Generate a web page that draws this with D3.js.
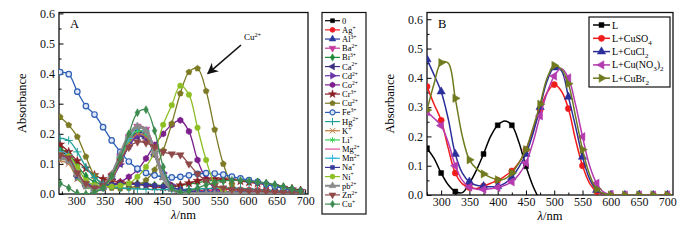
<html>

<head>
    <meta charset="utf-8">
    <title>Absorbance spectra</title>
    <style>
        body {
            margin: 0;
            background: #fff;
        }

        text {
            font-family: "Liberation Serif", "Times New Roman", Times, serif;
        }
    </style>
</head>

<body>
    <script src="https://cdn.jsdelivr.net/npm/d3@7/dist/d3.min.js"></script>
    <script>
        // ---------- panel A data: wavelength (nm) and absorbance per ion ----------
        var wlA = [272, 287, 302, 317, 332, 347, 362, 377, 392, 407, 422, 437, 452, 467, 482, 497, 512, 527, 542, 557, 572, 587, 602, 617, 632, 647, 662, 677, 692];

        var labelsA = ["0", "Ag^+", "Al^3+", "Ba^2+", "Bi^3+", "Ca^2+", "Cd^2+", "Co^2+", "Cr^3+", "Cu^2+", "Fe^3+",
            "Hg^2+", "K^+", "Li^+", "Mg^2+", "Mn^2+", "Na^+", "Ni^+", "pb^2+", "Zn^2+", "Cu^+"];

        var a0 = [0.14, 0.125, 0.065, 0.035, 0.02, 0.025, 0.06, 0.12, 0.18, 0.21, 0.2, 0.135, 0.06, 0.02, 0.008, 0.005, 0.005, 0.005, 0.005, 0.005, 0.005, 0.005, 0.005, 0.005, 0.005, 0.005, 0.005, 0.005, 0.005];
        var aAg = [0.15, 0.13, 0.07, 0.035, 0.02, 0.025, 0.065, 0.13, 0.19, 0.22, 0.21, 0.145, 0.065, 0.025, 0.01, 0.008, 0.01, 0.012, 0.014, 0.015, 0.015, 0.015, 0.014, 0.013, 0.012, 0.01, 0.008, 0.006, 0.005];
        var aAl = [0.13, 0.12, 0.065, 0.03, 0.018, 0.022, 0.055, 0.115, 0.175, 0.205, 0.195, 0.13, 0.055, 0.018, 0.005, 0.003, 0.003, 0.003, 0.003, 0.003, 0.003, 0.003, 0.003, 0.003, 0.003, 0.003, 0.003, 0.003, 0.003];
        var aBa = [0.12, 0.115, 0.06, 0.03, 0.02, 0.025, 0.06, 0.125, 0.19, 0.225, 0.215, 0.15, 0.065, 0.02, 0.008, 0.005, 0.004, 0.004, 0.004, 0.004, 0.004, 0.004, 0.004, 0.004, 0.004, 0.004, 0.004, 0.004, 0.004];
        var aBi = [0.15, 0.135, 0.095, 0.06, 0.04, 0.032, 0.03, 0.032, 0.035, 0.036, 0.034, 0.03, 0.027, 0.026, 0.028, 0.033, 0.038, 0.042, 0.045, 0.046, 0.046, 0.045, 0.043, 0.04, 0.036, 0.031, 0.025, 0.019, 0.013];
        var aCa = [0.13, 0.12, 0.06, 0.03, 0.02, 0.022, 0.05, 0.1, 0.16, 0.19, 0.185, 0.13, 0.06, 0.02, 0.008, 0.005, 0.005, 0.005, 0.005, 0.005, 0.005, 0.005, 0.005, 0.005, 0.005, 0.005, 0.005, 0.005, 0.005];
        var aCd = [0.12, 0.11, 0.055, 0.028, 0.018, 0.022, 0.05, 0.1, 0.16, 0.195, 0.19, 0.14, 0.07, 0.03, 0.01, 0.005, 0.005, 0.005, 0.005, 0.005, 0.005, 0.005, 0.005, 0.005, 0.005, 0.005, 0.005, 0.005, 0.005];
        var aCo = [0.13, 0.12, 0.06, 0.035, 0.025, 0.025, 0.03, 0.04, 0.057, 0.08, 0.118, 0.163, 0.2, 0.23, 0.245, 0.208, 0.113, 0.05, 0.02, 0.008, 0.004, 0.002, 0, 0, 0, 0, 0, 0, 0];
        var aCr = [0.165, 0.14, 0.11, 0.085, 0.063, 0.05, 0.043, 0.038, 0.035, 0.032, 0.028, 0.024, 0.022, 0.024, 0.029, 0.036, 0.044, 0.049, 0.05, 0.049, 0.046, 0.043, 0.039, 0.035, 0.031, 0.026, 0.021, 0.016, 0.011];
        var aCu2 = [0.256, 0.229, 0.19, 0.124, 0.06, 0.03, 0.02, 0.018, 0.02, 0.028, 0.046, 0.08, 0.145, 0.234, 0.334, 0.405, 0.417, 0.342, 0.214, 0.1, 0.032, 0.01, 0.003, 0, 0, 0, 0, 0, 0];
        var aFe = [0.405, 0.398, 0.34, 0.292, 0.264, 0.222, 0.178, 0.14, 0.108, 0.084, 0.07, 0.062, 0.057, 0.055, 0.057, 0.062, 0.067, 0.069, 0.068, 0.064, 0.058, 0.052, 0.046, 0.04, 0.032, 0.025, 0.018, 0.012, 0.006];
        var aHg = [0.185, 0.178, 0.14, 0.09, 0.055, 0.035, 0.025, 0.02, 0.018, 0.017, 0.016, 0.015, 0.015, 0.015, 0.015, 0.016, 0.017, 0.018, 0.019, 0.02, 0.02, 0.019, 0.017, 0.015, 0.013, 0.011, 0.009, 0.007, 0.005];
        var aK = [0.11, 0.1, 0.05, 0.025, 0.015, 0.02, 0.05, 0.11, 0.17, 0.2, 0.19, 0.13, 0.055, 0.018, 0.006, 0.004, 0.004, 0.004, 0.004, 0.004, 0.004, 0.004, 0.004, 0.004, 0.004, 0.004, 0.004, 0.004, 0.004];
        var aLi = [0.12, 0.11, 0.055, 0.025, 0.015, 0.02, 0.055, 0.115, 0.18, 0.21, 0.2, 0.14, 0.06, 0.02, 0.007, 0.004, 0.004, 0.004, 0.004, 0.004, 0.004, 0.004, 0.004, 0.004, 0.004, 0.004, 0.004, 0.004, 0.004];
        var aMg = [0.13, 0.12, 0.06, 0.03, 0.02, 0.025, 0.062, 0.125, 0.19, 0.225, 0.215, 0.15, 0.066, 0.022, 0.008, 0.005, 0.005, 0.005, 0.005, 0.005, 0.005, 0.005, 0.005, 0.005, 0.005, 0.005, 0.005, 0.005, 0.005];
        var aMn = [0.14, 0.13, 0.07, 0.035, 0.02, 0.025, 0.06, 0.12, 0.185, 0.22, 0.21, 0.145, 0.062, 0.02, 0.008, 0.005, 0.005, 0.005, 0.005, 0.005, 0.005, 0.005, 0.005, 0.005, 0.005, 0.005, 0.005, 0.005, 0.005];
        var aNa = [0.13, 0.12, 0.06, 0.035, 0.028, 0.03, 0.032, 0.033, 0.033, 0.032, 0.03, 0.028, 0.025, 0.02, 0.015, 0.01, 0.008, 0.006, 0.005, 0.005, 0.005, 0.005, 0.005, 0.005, 0.005, 0.005, 0.005, 0.005, 0.005];
        var aNi = [0.13, 0.125, 0.09, 0.045, 0.03, 0.025, 0.025, 0.028, 0.035, 0.057, 0.09, 0.14, 0.23, 0.295, 0.36, 0.33, 0.22, 0.113, 0.035, 0.01, 0.003, 0, 0, 0, 0, 0, 0, 0, 0];
        var aPb = [0.12, 0.11, 0.065, 0.03, 0.02, 0.025, 0.065, 0.13, 0.195, 0.225, 0.21, 0.14, 0.055, 0.015, 0.005, 0.002, 0.002, 0.002, 0.002, 0.002, 0.002, 0.002, 0.002, 0.002, 0.002, 0.002, 0.002, 0.002, 0.002];
        var aZn = [0.13, 0.12, 0.07, 0.035, 0.02, 0.028, 0.06, 0.11, 0.155, 0.173, 0.17, 0.157, 0.14, 0.133, 0.13, 0.1, 0.067, 0.043, 0.028, 0.02, 0.015, 0.012, 0.01, 0.009, 0.008, 0.006, 0.005, 0.004, 0.003];
        var aCu1 = [0.035, 0.02, 0.002, 0, 0.005, 0.02, 0.06, 0.12, 0.2, 0.27, 0.28, 0.21, 0.09, 0.02, 0.005, 0.01, 0.02, 0.03, 0.038, 0.043, 0.045, 0.045, 0.043, 0.04, 0.035, 0.03, 0.023, 0.016, 0.009];

        var seriesA = [a0, aAg, aAl, aBa, aBi, aCa, aCd, aCo, aCr, aCu2, aFe, aHg, aK, aLi, aMg, aMn, aNa, aNi, aPb, aZn, aCu1];

        // ---------- panel B data ----------
        var wlB = [275, 287.5, 300, 312.5, 325, 337.5, 350, 362.5, 375, 387.5, 400, 412.5, 425, 437.5, 450, 462.5, 475, 487.5,
            500, 512.5, 525, 537.5, 550, 562.5, 575, 587.5, 600, 612.5, 625, 637.5, 650, 662.5, 675, 687.5, 700];

        var labelsB = ["L", "L+CuSO_4", "L+CuCl_2", "L+Cu(NO_3)_2", "L+CuBr_2"];

        var bL = [0.16, 0.125, 0.075, 0.035, 0.012, 0.008, 0.04, 0.085, 0.14, 0.2, 0.238, 0.253, 0.238, 0.18, 0.098, 0.03, -0.02,
            null, null, null, null, null, null, null, null, null, null, null, null, null, null, null, null, null, null];
        var bCuSO4 = [0.37, 0.31, 0.255, 0.16, 0.075, 0.038, 0.026, 0.022, 0.03, 0.04, 0.05, 0.064, 0.082, 0.11, 0.155, 0.22, 0.29, 0.35,
            0.377, 0.355, 0.295, 0.19, 0.1, 0.04, 0.012, 0.003, 0, 0, 0, 0, 0, 0, 0, 0, 0];
        var bCuCl2 = [0.463, 0.41, 0.353, 0.26, 0.14, 0.075, 0.045, 0.033, 0.03, 0.028, 0.03, 0.04, 0.06, 0.095, 0.14, 0.21, 0.3, 0.39,
            0.435, 0.425, 0.335, 0.235, 0.13, 0.055, 0.017, 0.004, 0, 0, 0, 0, 0, 0, 0, 0, 0];
        var bCuNO3 = [0.284, 0.262, 0.237, 0.18, 0.1, 0.05, 0.027, 0.02, 0.019, 0.021, 0.026, 0.033, 0.045, 0.07, 0.11, 0.18, 0.27, 0.35,
            0.406, 0.432, 0.4, 0.31, 0.199, 0.1, 0.04, 0.01, 0.002, 0, 0, 0, 0, 0, 0, 0, 0];
        var bCuBr2 = [0.29, 0.38, 0.452, 0.45, 0.33, 0.2, 0.12, 0.09, 0.072, 0.06, 0.052, 0.055, 0.075, 0.11, 0.155, 0.23, 0.31, 0.4,
            0.442, 0.43, 0.38, 0.27, 0.155, 0.07, 0.02, 0.005, 0, 0, 0, 0, 0, 0, 0, 0, 0];

        var seriesB = [bL, bCuSO4, bCuCl2, bCuNO3, bCuBr2];

        // ---------- styles ----------
        var colorsA = ["#000000", "#ee1c25", "#2a3a9c", "#c2399b", "#1f8a3a", "#3b2f80", "#6b35a8", "#7b1f8c", "#8b1e22", "#7c7a24", "#2f5fb5",
            "#1f9e9a", "#c07a3a", "#3ccf5a", "#e0509f", "#35b7d8", "#3b3a9a", "#8dbf25", "#8a8a8a", "#8e4848", "#3d8a4e"];
        var shapesA = ["square", "circle", "up", "down", "diamond", "left", "right", "hexagon", "star", "pentagon", "ring",
            "plus", "times", "asterisk", "none", "plus", "square", "circle", "up", "down", "diamond"];
        var colorsB = ["#000000", "#f01c1c", "#2b2f9a", "#b43ab0", "#707a1f"];
        var shapesB = ["square", "circle", "up", "left", "right"];

        var svg = d3.select("body")
            .append("svg")
            .attr("width", 700)
            .attr("height", 240);
        svg.append("rect").attr("width", 700).attr("height", 240).attr("fill", "#fff");

        // polygon symbol (hexagon, pentagon)
        function polygon(n) {
            return {
                draw: function (ctx, size) {
                    var r = Math.sqrt(size / 2.4);
                    for (var i = 0; i < n; i++) {
                        var a = -Math.PI / 2 + i * 2 * Math.PI / n;
                        if (i == 0) ctx.moveTo(r * Math.cos(a), r * Math.sin(a));
                        else ctx.lineTo(r * Math.cos(a), r * Math.sin(a));
                    }
                    ctx.closePath();
                }
            };
        }

        function addMarker(g, shape, color, cx, cy, size) {
            if (shape == "none") return;
            var type = {
                square: d3.symbolSquare, circle: d3.symbolCircle, ring: d3.symbolCircle, up: d3.symbolTriangle,
                down: d3.symbolTriangle, left: d3.symbolTriangle, right: d3.symbolTriangle, diamond: d3.symbolDiamond,
                star: d3.symbolStar, hexagon: polygon(6), pentagon: polygon(5), plus: d3.symbolPlus,
                times: d3.symbolTimes, asterisk: d3.symbolAsterisk
            }[shape];
            var rot = { down: 180, left: -90, right: 90 }[shape] || 0;
            var open = (shape == "plus" || shape == "times" || shape == "asterisk");
            var s = (shape == "square" || shape == "diamond") ? size * 0.8 : size;
            g.append("path")
                .attr("d", d3.symbol().type(type).size(s)())
                .attr("transform", "translate(" + cx + "," + cy + ") rotate(" + rot + ")")
                .attr("fill", open ? "none" : (shape == "ring" ? "#dde5f6" : color))
                .attr("stroke", color)
                .attr("stroke-width", open ? 1 : (shape == "ring" ? 1.2 : 0.5));
        }

        // label with ^superscript or _subscript
        function richText(t, str, fs) {
            var parts = str.split("^");
            t.append("tspan").text(parts[0].split(/_(\d)/)[0]);
            if (parts.length > 1) {
                t.append("tspan").attr("dy", -fs * 0.4).attr("font-size", fs * 0.7).text(parts[1]);
                return;
            }
            var bits = str.split(/(_\d)/);
            var low = false;
            bits.slice(1).forEach(function (b) {
                if (b.charAt(0) == "_") {
                    t.append("tspan").attr("dy", fs * 0.3).attr("font-size", fs * 0.7).text(b.slice(1));
                    low = true;
                } else if (b.length) {
                    t.append("tspan").attr("dy", low ? -fs * 0.3 : 0).text(b);
                    low = false;
                }
            });
        }

        // frame, ticks and axis titles
        function drawAxes(x, y, id, letter) {
            var x0 = x.range()[0], x1 = x.range()[1], y0 = y.range()[0], y1 = y.range()[1];
            var g = svg.append("g");
            var xMajor = d3.range(300, 701, 50), xMinor = d3.range(275, 701, 50);
            var yMajor = d3.range(0, 0.61, 0.1), yMinor = d3.range(0.05, y.domain()[1], 0.1);

            g.append("g").attr("transform", "translate(0," + y0 + ")")
                .call(d3.axisBottom(x).tickValues(xMinor).tickSize(-2.5).tickFormat(""));
            g.append("g").attr("transform", "translate(0," + y0 + ")")
                .call(d3.axisBottom(x).tickValues(xMajor).tickSize(-4.5).tickPadding(2));
            g.append("g").attr("transform", "translate(" + x0 + ",0)")
                .call(d3.axisLeft(y).tickValues(yMinor).tickSize(-2.5).tickFormat(""));
            g.append("g").attr("transform", "translate(" + x0 + ",0)")
                .call(d3.axisLeft(y).tickValues(yMajor).tickSize(-4.5).tickPadding(4).tickFormat(d3.format(".1f")));
            g.selectAll(".domain").remove();
            g.selectAll(".tick line").attr("stroke-width", 1);
            g.selectAll(".tick text").attr("font-size", 12).attr("font-family", "Liberation Serif, serif").attr("fill", "#111");

            g.append("rect")
                .attr("x", x0).attr("y", y1)
                .attr("width", x1 - x0).attr("height", y0 - y1)
                .attr("fill", "none").attr("stroke", "#111").attr("stroke-width", 1.3);

            svg.append("text")
                .attr("transform", "translate(" + (x0 - 33) + "," + ((y0 + y1) / 2) + ") rotate(-90)")
                .attr("text-anchor", "middle").attr("font-size", 12.5).text("Absorbance");
            var xt = svg.append("text")
                .attr("x", (x0 + x1) / 2).attr("y", y0 + 25)
                .attr("text-anchor", "middle").attr("font-size", 12.5);
            xt.append("tspan").attr("font-style", "italic").text("λ");
            xt.append("tspan").text("/nm");
            svg.append("text")
                .attr("x", x0 + 11).attr("y", y1 + 15)
                .attr("font-size", 12.5).text(letter);

            svg.append("clipPath").attr("id", id)
                .append("rect").attr("x", x0).attr("y", y1).attr("width", x1 - x0).attr("height", y0 - y1);
        }

        function drawSeries(x, y, wl, data, colors, shapes, id, msize, lw, every) {
            var plot = svg.append("g").attr("clip-path", "url(#" + id + ")");
            var line = d3.line()
                .defined(function (d) { return d != null; })
                .x(function (d, i) { return x(wl[i]); })
                .y(function (d) { return y(d); })
                .curve(d3.curveCatmullRom.alpha(0.5));
            data.forEach(function (vals, k) {
                var g = plot.append("g");
                g.append("path")
                    .attr("d", line(vals))
                    .attr("fill", "none")
                    .attr("stroke", colors[k])
                    .attr("stroke-width", lw[k] || lw[0]);
                vals.forEach(function (v, i) {
                    if (v == null || i % every != 0) return;
                    addMarker(g, shapes[k], colors[k], x(wl[i]), y(v), msize);
                });
            });
        }

        // ---------- panel A ----------
        var xA = d3.scaleLinear().domain([270, 705]).range([59, 308]);
        var yA = d3.scaleLinear().domain([0, 0.603]).range([194, 12.5]);
        drawAxes(xA, yA, "clipA", "A");
        var lwA = seriesA.map(function (d, i) { return labelsA[i] == "pb^2+" ? 3 : 1.3; });
        drawSeries(xA, yA, wlA, seriesA, colorsA, shapesA, "clipA", 24, lwA, 1);

        // arrow pointing at the Cu2+ band
        svg.append("defs").append("marker")
            .attr("id", "head").attr("viewBox", "0 0 10 10")
            .attr("refX", 9).attr("refY", 5)
            .attr("markerWidth", 7).attr("markerHeight", 7)
            .attr("orient", "auto")
            .append("path").attr("d", "M0,0 L10,5 L0,10 L3,5 Z").attr("fill", "#111");
        svg.append("line")
            .attr("x1", xA(588)).attr("y1", yA(0.495))
            .attr("x2", xA(530)).attr("y2", yA(0.4))
            .attr("stroke", "#111").attr("stroke-width", 1.6)
            .attr("marker-end", "url(#head)");
        var cu = svg.append("text")
            .attr("x", xA(593)).attr("y", yA(0.51))
            .attr("font-size", 9);
        richText(cu, "Cu^2+", 9);

        // legend A
        var legA = svg.append("g");
        legA.append("rect")
            .attr("x", 322).attr("y", 12.5).attr("width", 44).attr("height", 201.5)
            .attr("fill", "#fff").attr("stroke", "#111").attr("stroke-width", 1.2);
        labelsA.forEach(function (lab, i) {
            var ly = 20.7 + i * 9.17;
            legA.append("line").attr("x1", 325).attr("x2", 340).attr("y1", ly).attr("y2", ly)
                .attr("stroke", colorsA[i]).attr("stroke-width", lwA[i] > 2 ? 2 : 1.2);
            addMarker(legA, shapesA[i], colorsA[i], 332.5, ly, 20);
            var t = legA.append("text").attr("x", 342).attr("y", ly + 3).attr("font-size", 8.5);
            richText(t, lab, 8);
        });

        // ---------- panel B ----------
        var xB = d3.scaleLinear().domain([275, 710]).range([427, 673]);
        var yB = d3.scaleLinear().domain([0, 0.623]).range([195, 12.5]);
        drawAxes(xB, yB, "clipB", "B");
        drawSeries(xB, yB, wlB, seriesB, colorsB, shapesB, "clipB", 30, [1.5], 2);

        var legB = svg.append("g");
        legB.append("rect")
            .attr("x", 589).attr("y", 17).attr("width", 81).attr("height", 70)
            .attr("fill", "#fff").attr("stroke", "#111").attr("stroke-width", 1.2);
        labelsB.forEach(function (lab, i) {
            var ly = 25 + i * 13.3;
            legB.append("line").attr("x1", 593).attr("x2", 610).attr("y1", ly).attr("y2", ly)
                .attr("stroke", colorsB[i]).attr("stroke-width", 1.5);
            addMarker(legB, shapesB[i], colorsB[i], 601.5, ly, 30);
            var t = legB.append("text").attr("x", 612).attr("y", ly + 3.5).attr("font-size", 10);
            richText(t, lab, 10);
        });
    </script>
</body>

</html>
